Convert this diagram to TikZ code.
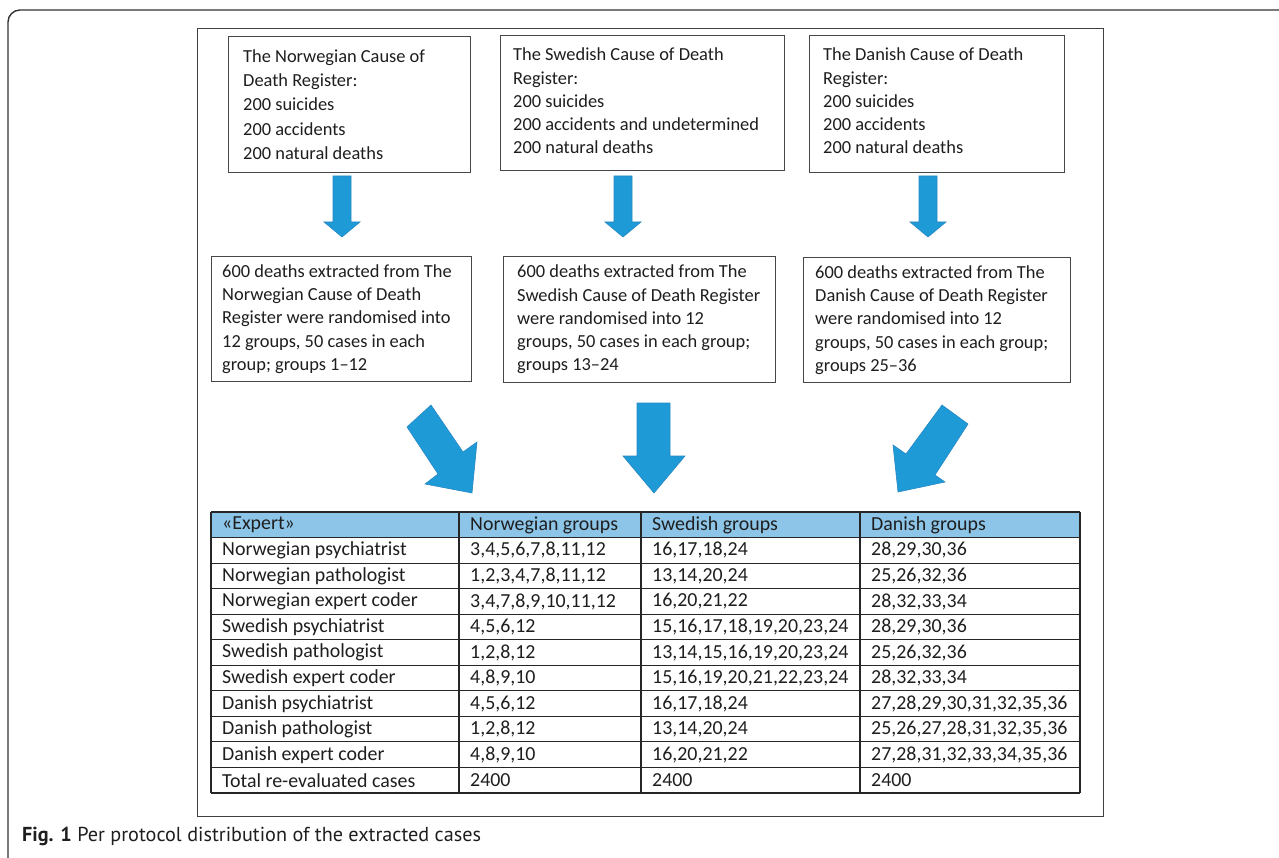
\documentclass[tikz,border=0pt]{standalone}
\usepackage{fontspec}
\setmainfont{Carlito}
\newfontfamily\capfont{PT Sans}
\definecolor{arrowblue}{RGB}{30,155,215}
\definecolor{arrowedge}{RGB}{40,135,195}
\definecolor{headblue}{RGB}{141,197,232}
\definecolor{ink}{RGB}{30,30,30}
\begin{document}
\begin{tikzpicture}[x=1pt,y=-1pt,
  outerframe/.style={draw=black!80, line width=1.4pt},
  panelbox/.style={draw=black!75, line width=1.2pt, inner sep=0pt},
  boxs/.style={draw=black!72, line width=1pt, inner sep=0pt, fill=white},
  txt/.style={inner sep=0pt, align=left, text=ink, font=\fontsize{18.4}{23.3}\selectfont},
  blockarrow/.style={fill=arrowblue, draw=arrowedge, line width=0.6pt, line join=miter},
  cell/.style={inner sep=0pt, anchor=west, text=ink, font=\fontsize{19.9}{22}\selectfont},
  gridline/.style={draw=black!85, line width=1.1pt}
]
\useasboundingbox (0,0) rectangle (1279,858);
\begin{scope}
  \clip (0,0) rectangle (1279,858);
  \draw[outerframe, rounded corners=12pt] (8,960) -- (8,10) -- (1400,10);
\end{scope}

% inner panel
\node[panelbox, minimum width=906pt, minimum height=788pt, anchor=north west] (panel) at (197,28) {};

% top boxes
\node[boxs, minimum width=242pt, minimum height=136pt, anchor=north west] (nt) at (228,36) {};
\node[txt, anchor=west, font=\fontsize{18.4}{24.3}\selectfont] (ntT) at ([xshift=15pt]nt.west) {The Norwegian Cause of\\Death Register:\\200 suicides\\200 accidents\\200 natural deaths};

\node[boxs, minimum width=284pt, minimum height=135pt, anchor=north west] (st) at (500,35) {};
\node[txt, anchor=west] (stT) at ([xshift=13pt,yshift=2pt]st.west) {The Swedish Cause of Death\\Register:\\200 suicides\\200 accidents and undetermined\\200 natural deaths};

\node[boxs, minimum width=255pt, minimum height=137pt, anchor=north west] (dt) at (809,35) {};
\node[txt, anchor=west] (dtT) at ([xshift=14pt,yshift=3pt]dt.west) {The Danish Cause of Death\\Register:\\200 suicides\\200 accidents\\200 natural deaths};

% middle boxes
\node[boxs, minimum width=260pt, minimum height=125pt, anchor=north west] (nm) at (211,256) {};
\node[txt, anchor=west] (nmT) at ([xshift=11pt]nm.west) {600 deaths extracted from The\\Norwegian Cause of Death\\Register were randomised into\\12 groups, 50 cases in each\\group; groups 1--12};

\node[boxs, minimum width=272pt, minimum height=126pt, anchor=north west] (sm) at (503,256) {};
\node[txt, anchor=west] (smT) at ([xshift=14pt]sm.west) {600 deaths extracted from The\\Swedish Cause of Death Register\\were randomised into 12\\groups, 50 cases in each group;\\groups 13--24};

\node[boxs, minimum width=267pt, minimum height=125pt, anchor=north west] (dm) at (803,257) {};
\node[txt, anchor=west] (dmT) at ([xshift=12pt]dm.west) {600 deaths extracted from The\\Danish Cause of Death Register\\were randomised into 12\\groups, 50 cases in each group;\\groups 25--36};

% small block arrows
\foreach \cx in {342,623,928}{
  \draw[blockarrow] (\cx-9,176) -- (\cx+9,176) -- (\cx+9,222) -- (\cx+18,222) -- (\cx,237) -- (\cx-18,222) -- (\cx-9,222) -- cycle;
}

% large block arrows
\draw[blockarrow] (407,427) -- (431,405) -- (463,452) -- (477,442) -- (472,493) -- (425,484) -- (438,474) -- cycle;
\draw[blockarrow] (637,403) -- (670,403) -- (670,456) -- (685,456) -- (654,493) -- (623,456) -- (637,456) -- cycle;
\draw[blockarrow] (942,405) -- (968,424) -- (935,475) -- (945,482) -- (898,492) -- (893,445) -- (906,454) -- cycle;

% table
\fill[headblue] (211,512) rectangle (1080,537.5);
\foreach \i in {0,...,11}{
  \draw[gridline] (211,512+\i*25.545) -- (1080,512+\i*25.545);
}
\foreach \xx in {211,459,641,860,1080}{
  \draw[gridline] (\xx,512) -- (\xx,793);
}
\foreach [count=\r from 0] \a/\b/\c/\d in {
  {«Expert»}/{Norwegian groups}/{Swedish groups}/{Danish groups},
  {Norwegian psychiatrist}/{3,4,5,6,7,8,11,12}/{16,17,18,24}/{28,29,30,36},
  {Norwegian pathologist}/{1,2,3,4,7,8,11,12}/{13,14,20,24}/{25,26,32,36},
  {Norwegian expert coder}/{3,4,7,8,9,10,11,12}/{16,20,21,22}/{28,32,33,34},
  {Swedish psychiatrist}/{4,5,6,12}/{15,16,17,18,19,20,23,24}/{28,29,30,36},
  {Swedish pathologist}/{1,2,8,12}/{13,14,15,16,19,20,23,24}/{25,26,32,36},
  {Swedish expert coder}/{4,8,9,10}/{15,16,19,20,21,22,23,24}/{28,32,33,34},
  {Danish psychiatrist}/{4,5,6,12}/{16,17,18,24}/{27,28,29,30,31,32,35,36},
  {Danish pathologist}/{1,2,8,12}/{13,14,20,24}/{25,26,27,28,31,32,35,36},
  {Danish expert coder}/{4,8,9,10}/{16,20,21,22}/{27,28,31,32,33,34,35,36},
  {Total re-evaluated cases}/{2400}/{2400}/{2400}}{
  \node[cell] (c-\r-1) at (222,512+\r*25.545+12.9) {\a};
  \node[cell] (c-\r-2) at (470,512+\r*25.545+12.9) {\b};
  \node[cell] (c-\r-3) at (652,512+\r*25.545+12.9) {\c};
  \node[cell] (c-\r-4) at (871,512+\r*25.545+12.9) {\d};
}

% caption
\node[anchor=base west, inner sep=0pt, text=ink] (cap) at (22,841) {\capfont\fontsize{20.2}{22}\selectfont\textbf{Fig. 1} Per protocol distribution of the extracted cases};
\end{tikzpicture}
\end{document}
